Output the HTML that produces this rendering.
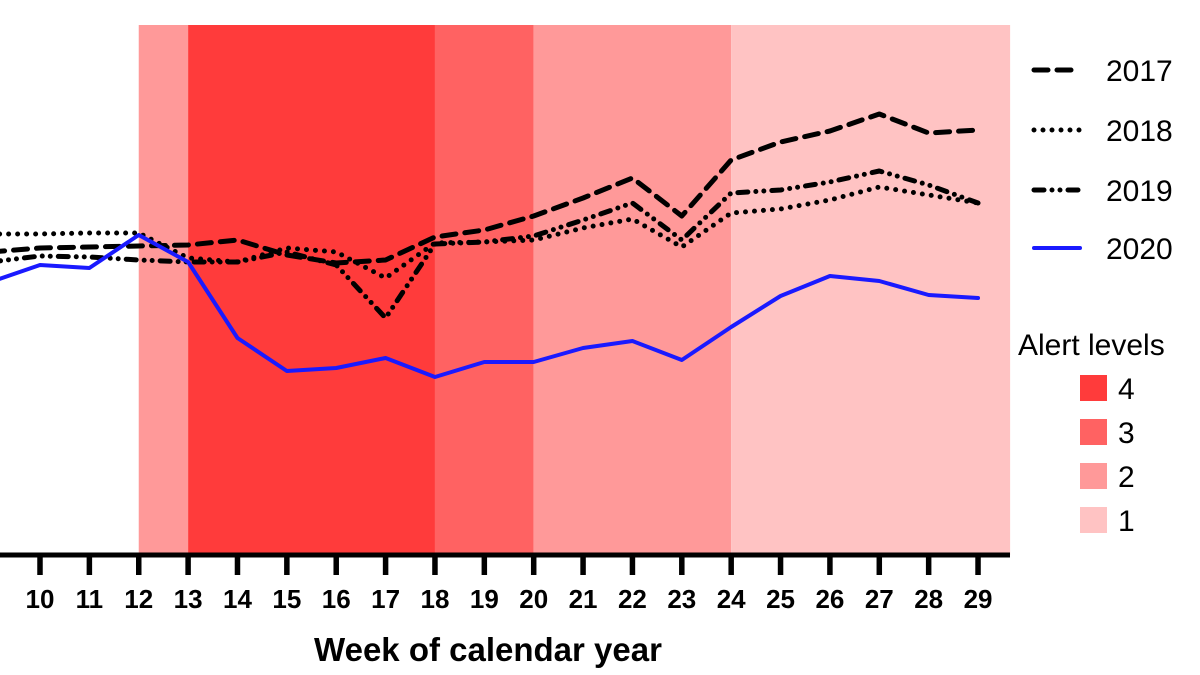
<!DOCTYPE html>
<html><head><meta charset="utf-8"><style>
body{margin:0;background:#fff;}
svg{display:block;font-family:"Liberation Sans",Arial,sans-serif;}
text{font-family:"Liberation Sans",Arial,sans-serif;}
</style></head><body>
<svg id="chart" width="1200" height="675" viewBox="0 0 1200 675">
<g id="bands"></g><g id="axis"></g><g id="lines"></g>
<text x="488" y="661" font-size="33" font-weight="bold" text-anchor="middle">Week of calendar year</text>
<g id="legend"></g>
</svg>
<script>
const weeks=[9,10,11,12,13,14,15,16,17,18,19,20,21,22,23,24,25,26,27,28,29];
const s2017=[303,307,308,309,310,315,300,292,295,318,325,339,357,377,339,395,413,424,441,422,425];
const s2018=[321,321,322,322,297,293,307,303,277,312,313,315,327,336,308,342,346,355,368,360,352];
const s2019=[293,299,298,295,293,293,303,290,237,311,313,319,335,352,315,362,365,373,384,370,352];
const s2020=[273,290,287,320,293,217,184,187,197,178,193,193,207,214,195,228,259,279,274,260,257];
const bandStart=[12,13,18,20,24];
const bandEnd=[13,18,20,24,29.65];
const bandLevel=[2,4,3,2,1];
const levelColors={4:"#ff3b3b",3:"#ff6262",2:"#ff9999",1:"#ffc3c3"};
const NS="http://www.w3.org/2000/svg";
const x=w=>40+(w-10)*49.37;
const y=v=>555-v;
function mk(t,a,p){const e=document.createElementNS(NS,t);for(const k in a)e.setAttribute(k,a[k]);p.appendChild(e);return e;}
const bands=document.getElementById('bands');
bandStart.forEach((s,i)=>{
 const r=mk('rect',{x:x(s),y:25,width:x(bandEnd[i])-x(s),height:530,fill:levelColors[bandLevel[i]]},bands);
 
 
});
const ax=document.getElementById('axis');
const al=mk('line',{x1:0,x2:1010,y1:555,y2:555,stroke:'#000','stroke-width':5},ax);


weeks.forEach(w=>{
 const t=mk('line',{x1:x(w),x2:x(w),y1:555,y2:575,stroke:'#000','stroke-width':5.5},ax);
 
 
 const l=mk('text',{x:x(w),y:608,'font-size':26,'font-weight':'bold','text-anchor':'middle','font-family':'Liberation Sans, sans-serif'},ax);
 l.textContent=w;
 
 
});
const series=[[s2017,'#000','14 9',5,'2017'],[s2018,'#000','0 9',5,'2018'],[s2019,'#000','10 8 0 8 0 8',5,'2019'],[s2020,'#1a1aff','none',4,'2020']];
const lg=document.getElementById('lines'),leg=document.getElementById('legend');
const legY=[70,130,190,248];
series.forEach((s,i)=>{
 const d=s[0].map((v,j)=>(j?'L':'M')+x(weeks[j])+','+y(v)).join('');
 const p=mk('path',{d:d,fill:'none',stroke:s[1],'stroke-width':s[3],'stroke-dasharray':s[2],'stroke-linecap':'round','stroke-linejoin':'round'},lg);
 
 
 const ll=mk('line',{x1:1034,x2:1080,y1:legY[i],y2:legY[i],stroke:s[1],'stroke-width':s[3],'stroke-dasharray':s[2],'stroke-linecap':'round'},leg);
 
 
 const lt=mk('text',{x:1106,y:legY[i]+11,'font-size':30},leg);
 lt.textContent=s[4];
 
 
});
const at=mk('text',{x:1018,y:355,'font-size':30},leg);
at.textContent='Alert levels';


[4,3,2,1].forEach((lv,i)=>{
 const yy=375+i*44;
 const r=mk('rect',{x:1080,y:yy,width:27,height:26,fill:levelColors[lv]},leg);
 
 
 const t=mk('text',{x:1118,y:yy+24,'font-size':30},leg);
 t.textContent=lv;
 
 
});
</script>
</body></html>
